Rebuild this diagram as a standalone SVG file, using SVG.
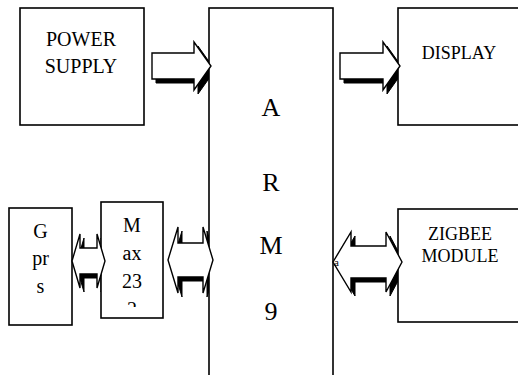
<svg xmlns="http://www.w3.org/2000/svg" xmlns:xlink="http://www.w3.org/1999/xlink" width="518" height="375" viewBox="0 0 518 375">
  <style>
    .box { fill: #ffffff; stroke: #000000; stroke-width: 1.6; }
    .sh { fill: #000000; stroke: #000000; stroke-width: 1; }
    .ar { fill: #ffffff; stroke: #000000; stroke-width: 1.4; stroke-linejoin: miter; }
    text { font-family: "Liberation Serif", "Times New Roman", serif; fill: #000000; text-anchor: middle; }
    .t20 { font-size: 20px; }
    .t18 { font-size: 18px; }
    .t26 { font-size: 26px; }
  </style>
  <defs>
    <polygon id="p-power" points="152,53 194,53 194,42 211,66 194,90 194,79 152,79"/>
    <polygon id="p-display" points="340,53 383,53 383,42 400,66 383,90 383,79 340,79"/>
    <polygon id="p-gm" points="72,261 80,234 80,248 97,248 97,234 105,261 97,288 97,274 80,274 80,288"/>
    <polygon id="p-ma" points="168,260 178,227 178,243 203,243 203,227 213,260 203,293 203,277 178,277 178,293"/>
    <polygon id="p-az" points="333,262 351,232 351,246 386,246 386,232 402,262 386,292 386,278 351,278 351,292"/>
    <clipPath id="clip-max">
      <rect x="101" y="202" width="62" height="105"/>
    </clipPath>
  </defs>
  <rect width="518" height="375" fill="#ffffff"/>

  <g id="shadows">
    <use xlink:href="#p-power" class="sh" transform="translate(4,4)"/>
    <use xlink:href="#p-display" class="sh" transform="translate(4,4)"/>
    <use xlink:href="#p-gm" class="sh" transform="translate(4,4)"/>
    <use xlink:href="#p-ma" class="sh" transform="translate(4,4)"/>
    <use xlink:href="#p-az" class="sh" transform="translate(4,4)"/>
  </g>

  <g id="power-supply">
    <rect class="box" x="20" y="8" width="124" height="117"/>
    <text class="t20" x="81" y="46">POWER</text>
    <text class="t20" x="81" y="73">SUPPLY</text>
  </g>

  <g id="arm9">
    <rect class="box" x="209" y="8" width="124" height="380"/>
    <text class="t26" x="271" y="116">A</text>
    <text class="t26" x="271" y="191">R</text>
    <text class="t26" x="271" y="254">M</text>
    <text class="t26" x="271" y="320">9</text>
  </g>

  <g id="display">
    <rect class="box" x="398" y="8" width="130" height="117"/>
    <text class="t18" x="459" y="59">DISPLAY</text>
  </g>

  <g id="gprs">
    <rect class="box" x="9" y="208" width="63" height="117"/>
    <text class="t20" x="40.5" y="238">G</text>
    <text class="t20" x="40.5" y="265">pr</text>
    <text class="t20" x="40.5" y="293">s</text>
  </g>

  <g id="max232">
    <rect class="box" x="101" y="202" width="62" height="116"/>
    <g clip-path="url(#clip-max)">
      <text class="t20" x="132" y="232">M</text>
      <text class="t20" x="132" y="260">ax</text>
      <text class="t20" x="132" y="288">23</text>
      <text class="t20" x="132" y="316">2</text>
    </g>
  </g>

  <g id="zigbee">
    <rect class="box" x="398" y="209" width="130" height="113"/>
    <text class="t18" x="460" y="240">ZIGBEE</text>
    <text class="t18" x="460" y="262">MODULE</text>
  </g>

  <g id="connectors">
    <use xlink:href="#p-power" class="ar"/>
    <use xlink:href="#p-display" class="ar"/>
    <use xlink:href="#p-gm" class="ar"/>
    <use xlink:href="#p-ma" class="ar"/>
    <use xlink:href="#p-az" class="ar"/>
  </g>

  <g id="stray-label">
    <text x="336.5" y="266" style="font-size:11px">a</text>
  </g>
</svg>
